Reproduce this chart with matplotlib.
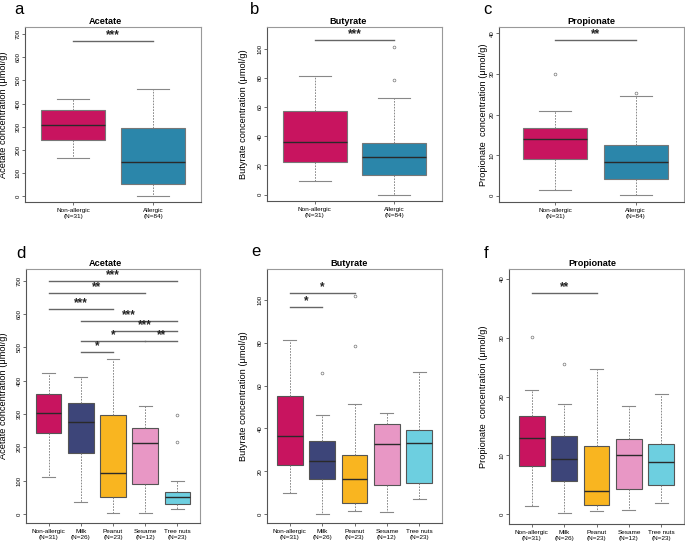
import matplotlib.pyplot as plt

plt.rcParams['font.family'] = ['Liberation Sans', 'DejaVu Sans']

# groups and colours
two_groups = ["Non-allergic\n(N=31)", "Allergic\n(N=84)"]
two_colors = ["#C8145F", "#2B86AA"]
food_groups = ["Non-allergic\n(N=31)", "Milk\n(N=26)", "Peanut\n(N=23)",
               "Sesame\n(N=12)", "Tree nuts\n(N=23)"]
food_colors = ["#C8145F", "#3D4579", "#F9B520", "#E897C5", "#6DCFE0"]

# box summaries: whisker low, Q1, median, Q3, whisker high
acetate_2 = [[165, 242, 307, 372, 421], [0, 54, 148, 292, 463]]
acetate_2_out = [[], []]
acetate_2_sig = [(1, 2, 671, "***")]

butyrate_2 = [[9.5, 22.7, 35.9, 57.3, 81.1], [0, 13.6, 25.9, 35.2, 65.9]]
butyrate_2_out = [[], [101.1, 78.2]]
butyrate_2_sig = [(1, 2, 105.7, "***")]

propionate_2 = [[1.4, 9.0, 13.9, 16.8, 21.0], [0.16, 4.1, 8.4, 12.4, 24.5]]
propionate_2_out = [[30.0], [25.4]]
propionate_2_sig = [(1, 2, 38.3, "**")]

acetate_5 = [[112, 242, 304, 360, 424], [35, 182, 276, 334, 410],
             [3, 52, 124, 297, 465], [3, 89, 212, 257, 323],
             [14, 29, 50, 65, 98]]
acetate_5_out = [[], [], [], [], [297, 215]]
acetate_5_sig = [(1, 5, 700, "***"), (1, 4, 662, "**"), (1, 3, 616, "***"),
                 (2, 5, 579, "***"), (3, 5, 548, "***"), (2, 4, 518, "*"),
                 (4, 5, 518, "**"), (2, 3, 486, "*")]

butyrate_5 = [[9.7, 22.7, 36.3, 55.3, 81.5], [0, 16.4, 24.9, 34.0, 46.1],
              [1.2, 5.0, 16.2, 27.4, 51.6], [0.9, 13.6, 32.9, 42.2, 47.0],
              [6.9, 14.3, 33.2, 39.4, 66.2]]
butyrate_5_out = [[], [65.7], [101.9, 78.3], [], []]
butyrate_5_sig = [(1, 3, 103.4, "*"), (1, 2, 96.7, "*")]

propionate_5 = [[1.4, 8.1, 13.0, 16.7, 21.1], [0.1, 5.6, 9.4, 13.2, 18.8],
                [0.5, 1.6, 4.0, 11.6, 24.6], [0.6, 4.2, 10.0, 12.7, 18.4],
                [1.8, 4.9, 8.8, 11.9, 20.4]]
propionate_5_out = [[30.1], [25.5], [], [], []]
propionate_5_sig = [(1, 3, 37.6, "**")]

W, H = 685, 543
fig = plt.figure(figsize=(W / 100, H / 100), dpi=100)


def panel(box_px, summ, outl, sig, labels, colors, title, title_x,
          ylabel, ylabel_x, ylim, yticks, xlim, letter, letter_xy, edge):
    l, r, t, b = box_px
    ax = fig.add_axes([l / W, 1 - b / H, (r - l) / W, (b - t) / H])
    stats = []
    for s, o, lab in zip(summ, outl, labels):
        stats.append(dict(whislo=s[0], q1=s[1], med=s[2], q3=s[3],
                          whishi=s[4], fliers=o, label=lab))
    n = len(stats)
    bp = ax.bxp(stats, positions=list(range(1, n + 1)), widths=0.8,
                capwidths=0.4, patch_artist=True, showfliers=True,
                boxprops=dict(edgecolor=edge, linewidth=0.8),
                whiskerprops=dict(color="#777777", linewidth=0.6,
                                  linestyle=(0, (2, 1.5))),
                capprops=dict(color="#888888", linewidth=0.8),
                medianprops=dict(color="#2a2a2a", linewidth=1.0),
                flierprops=dict(marker="o", markerfacecolor="none",
                                markeredgecolor="#777777", markersize=2,
                                markeredgewidth=0.5))
    for patch, c in zip(bp["boxes"], colors):
        patch.set_facecolor(c)

    for i, j, y, stars in sig:
        ax.plot([i, j], [y, y], color="#666666", lw=1.0)
        ax.text((i + j) / 2, y, stars, ha="center", va="bottom",
                fontsize=8.5, fontweight="bold", color="#222222")

    ax.set_xlim(*xlim)
    ax.set_ylim(*ylim)
    ax.set_yticks(yticks)
    ax.set_yticklabels([str(v) for v in yticks], rotation=90, va="center")
    ax.tick_params(axis="y", labelsize=4.3, length=2.5, pad=0.8,
                   color="#555555", width=0.6)
    ax.tick_params(axis="x", labelsize=4.6, length=2.5, pad=2,
                   color="#555555", width=0.6)
    for lab in ax.get_xticklabels():
        lab.set_linespacing(1.1)
    for side in ["left", "bottom"]:
        ax.spines[side].set_color("#555555")
        ax.spines[side].set_linewidth(0.8)
    for side in ["top", "right"]:
        ax.spines[side].set_color("#999999")
        ax.spines[side].set_linewidth(0.8)

    ax.set_title(title, fontsize=6.6, fontweight="bold", x=title_x, pad=2)
    fig.text(ylabel_x / W, 1 - (t + b) / 2 / H, ylabel, rotation=90,
             ha="center", va="center", fontsize=6.7)
    fig.text(letter_xy[0] / W, 1 - letter_xy[1] / H, letter,
             ha="center", va="center", fontsize=12)
    return ax


panel((25, 201, 27, 202), acetate_2, acetate_2_out, acetate_2_sig,
      two_groups, two_colors, "Acetate", 0.455,
      "Acetate concentration (\u03bcmol/g)", 4, (-26, 731),
      list(range(0, 701, 100)), (0.4, 2.6), "a", (19, 9), "#777777")
panel((267, 442, 27, 201), butyrate_2, butyrate_2_out, butyrate_2_sig,
      two_groups, two_colors, "Butyrate", 0.463,
      "Butyrate concentration (\u03bcmol/g)", 244, (-4.3, 114.8),
      list(range(0, 101, 20)), (0.4, 2.6), "b", (255, 9), "#777777")
panel((499, 684, 27, 202), propionate_2, propionate_2_out, propionate_2_sig,
      two_groups, two_colors, "Propionate", 0.5,
      "Propionate  concentration (\u03bcmol/g)", 483, (-1.56, 41.6),
      list(range(0, 41, 10)), (0.3, 2.6), "c", (487, 9), "#777777")

panel((26, 200, 269, 523), acetate_5, acetate_5_out, acetate_5_sig,
      food_groups, food_colors, "Acetate", 0.454,
      "Acetate concentration (\u03bcmol/g)", 4, (-27, 735),
      list(range(0, 701, 100)), (0.3, 5.7), "d", (21, 254), "#555555")
panel((267, 442, 269, 523), butyrate_5, butyrate_5_out, butyrate_5_sig,
      food_groups, food_colors, "Butyrate", 0.469,
      "Butyrate concentration (\u03bcmol/g)", 244, (-4.2, 114.5),
      list(range(0, 101, 20)), (0.3, 5.7), "e", (256, 252), "#555555")
panel((509, 684, 269, 524), propionate_5, propionate_5_out, propionate_5_sig,
      food_groups, food_colors, "Propionate", 0.474,
      "Propionate  concentration (\u03bcmol/g)", 484, (-1.7, 41.7),
      list(range(0, 41, 10)), (0.3, 5.7), "f", (486, 253), "#555555")

fig.savefig("out.png", dpi=100)
